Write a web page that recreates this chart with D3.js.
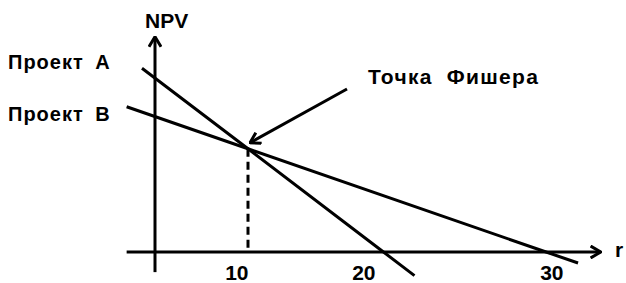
<!DOCTYPE html>
<html>
<head>
<meta charset="utf-8">
<script src="https://cdn.jsdelivr.net/npm/d3@7"></script>
<style>
  body { margin: 0; background: #fff; }
  text { font-family: "Liberation Sans", Arial, sans-serif; font-weight: bold; fill: #000; }
</style>
</head>
<body>
<div id="chart"></div>
<script>
// r (discount rate) / NPV, schematic
const projectA = [[-1.4, 105], [10, 59], [20.45, 0], [22.1, -13.5]];
const projectB = [[-3.05, 83], [10, 59], [29.1, 0], [30.8, -6.3]];
const fisherPoint = [10, 59];
const rTicks = [10, 20, 30];
const rAxisExtent = [-3.05, 32];
const npvAxisExtent = [-11.5, 123];

const width = 626, height = 283;

// the tick spacing on the original isn't uniform, so piecewise scale
const xScale = d3.scaleLinear()
  .domain([0, 10, 20, 30])
  .range([155, 248, 375, 563]);

const yScale = d3.scaleLinear()
  .domain([0, 100])
  .range([252, 77]);

const svg = d3.select('#chart').append('svg')
  .attr('width', width).attr('height', height);

// arrow markers
const defs = svg.append('defs');
defs.append('marker')
  .attr('id', 'head')
  .attr('viewBox', '0 0 12 14')
  .attr('refX', 11).attr('refY', 7)
  .attr('markerWidth', 12).attr('markerHeight', 14)
  .attr('markerUnits', 'userSpaceOnUse')
  .attr('orient', 'auto')
  .append('path')
  .attr('d', 'M1,1 L11,7 L1,13')
  .attr('fill', 'none')
  .attr('stroke', '#000')
  .attr('stroke-width', 3)
  .attr('stroke-linejoin', 'miter');

// axes lines
svg.append('line')
  .attr('x1', xScale(rAxisExtent[0])).attr('x2', xScale(rAxisExtent[1]))
  .attr('y1', yScale(0)).attr('y2', yScale(0))
  .attr('stroke', '#000').attr('stroke-width', 3)
  .attr('marker-end', 'url(#head)');

svg.append('line')
  .attr('x1', xScale(0)).attr('x2', xScale(0))
  .attr('y1', yScale(npvAxisExtent[0])).attr('y2', yScale(npvAxisExtent[1]))
  .attr('stroke', '#000').attr('stroke-width', 3)
  .attr('marker-end', 'url(#head)');

// tick labels
const xAxis = d3.axisBottom(xScale)
  .tickValues(rTicks)
  .tickSize(0)
  .tickPadding(13);

const gx = svg.append('g')
  .attr('transform', `translate(0, ${yScale(0)})`)
  .call(xAxis);
gx.select('.domain').remove();
gx.selectAll('.tick text')
  .attr('text-anchor', 'end')
  .attr('dy', '0.71em')
  .style('font-size', '21px')
  .style('font-family', '"Liberation Sans", Arial, sans-serif')
  .style('font-weight', 'bold');

// dashed drop line from Fisher point
svg.append('line')
  .attr('x1', xScale(fisherPoint[0])).attr('x2', xScale(fisherPoint[0]))
  .attr('y1', yScale(fisherPoint[1])).attr('y2', yScale(0))
  .attr('stroke', '#000').attr('stroke-width', 3)
  .attr('stroke-dasharray', '8,5');

// project lines
const lineGen = d3.line()
  .x(d => xScale(d[0]))
  .y(d => yScale(d[1]));

[projectA, projectB].forEach(p => {
  svg.append('path')
    .attr('d', lineGen(p))
    .attr('fill', 'none')
    .attr('stroke', '#000')
    .attr('stroke-width', 3);
});

// pointer to Fisher point
svg.append('line')
  .attr('x1', 347).attr('y1', 89)
  .attr('x2', xScale(fisherPoint[0]) + 2).attr('y2', yScale(fisherPoint[1]) - 6)
  .attr('stroke', '#000').attr('stroke-width', 3)
  .attr('marker-end', 'url(#head)');

// labels
svg.append('text').text('NPV')
  .attr('x', 145).attr('y', 27.5)
  .style('font-size', '21px');

svg.append('text').text('r')
  .attr('x', 615).attr('y', 257)
  .style('font-size', '21px');

svg.append('text').text('Проект А')
  .attr('x', 8).attr('y', 69)
  .style('font-size', '20px')
  .style('letter-spacing', '1px')
  .style('word-spacing', '5px');

svg.append('text').text('Проект В')
  .attr('x', 8).attr('y', 121)
  .style('font-size', '20px')
  .style('letter-spacing', '1px')
  .style('word-spacing', '5px');

svg.append('text').text('Точка Фишера')
  .attr('x', 368).attr('y', 84)
  .style('font-size', '21px')
  .style('letter-spacing', '1.3px')
  .style('word-spacing', '7px');
</script>
</body>
</html>
